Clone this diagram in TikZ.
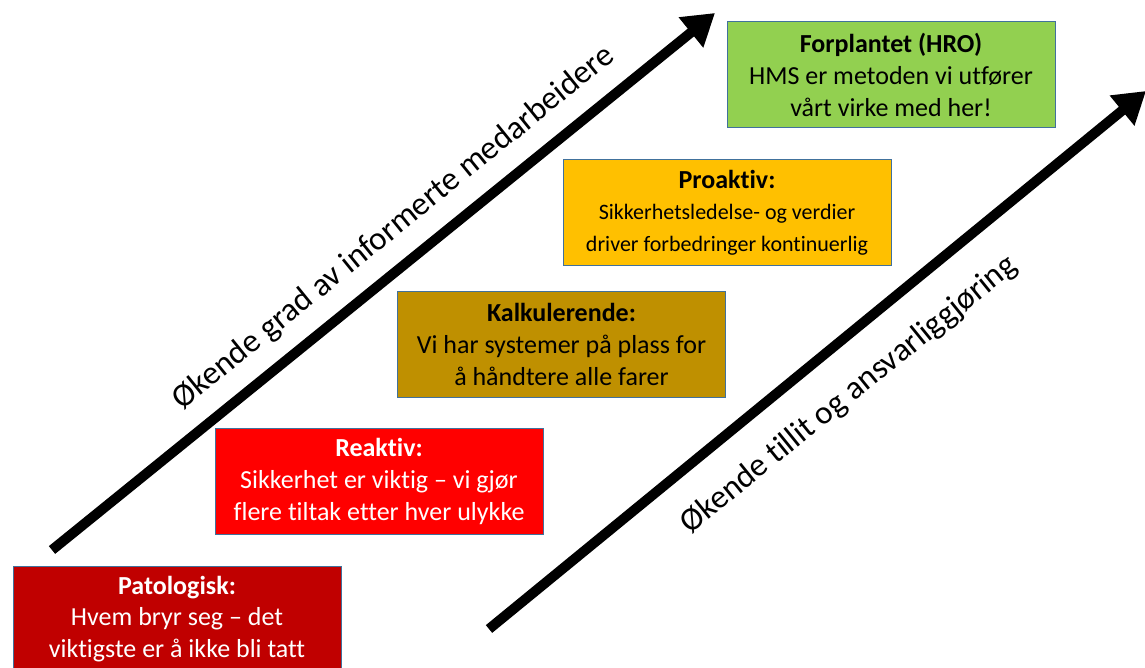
\documentclass[tikz,border=0pt]{standalone}
\usepackage{fontspec}
\setmainfont{Carlito}[Ligatures=CommonOff]
\usetikzlibrary{arrows.meta}
\definecolor{edgeblue}{HTML}{41719C}
\definecolor{patred}{HTML}{C00000}
\definecolor{reared}{HTML}{FF0000}
\definecolor{kalgold}{HTML}{BF9000}
\definecolor{proamber}{HTML}{FFC000}
\definecolor{hrogreen}{HTML}{92D050}
\newcommand{\smallline}{\fontsize{22}{28}\selectfont}
\begin{document}
\begin{tikzpicture}[x=1pt,y=-1pt,
  stage/.style={draw=edgeblue, line width=1pt, inner sep=0pt,
    minimum width=328pt, minimum height=106pt, align=center,
    font=\fontsize{26}{31.7}\selectfont},
  bigarrow/.style={line width=10pt, -{Triangle[length=31pt,width=37pt]}},
  axislabel/.style={font=\fontsize{33}{40}\selectfont, rotate=39, inner sep=0pt}]
\useasboundingbox (0,0) rectangle (1145,668);
\clip (0,0) rectangle (1145,668);

% culture maturity steps
\node[stage, fill=patred, text=white] (pat) at (177,619)
  {\textbf{Patologisk:}\\Hvem bryr seg – det\\viktigste er å ikke bli tatt};
\node[stage, fill=reared, text=white] (rea) at (379,481.5)
  {\textbf{Reaktiv:}\\Sikkerhet er viktig – vi gjør\\flere tiltak etter hver ulykke};
\node[stage, fill=kalgold, text=black] (kal) at (561.5,344.5)
  {\textbf{Kalkulerende:}\\Vi har systemer på plass for\\å håndtere alle farer};
\node[stage, fill=proamber, text=black] (pro) at (727,212.5)
  {\textbf{Proaktiv:}\\{\smallline Sikkerhetsledelse- og verdier}\\{\smallline driver forbedringer kontinuerlig}};
\node[stage, fill=hrogreen, text=black] (hro) at (891,75)
  {\textbf{Forplantet (HRO)}\\HMS er metoden vi utfører\\vårt virke med her!};

% trend arrows
\coordinate (a1s) at (52,550);
\coordinate (a1e) at (715,13);
\coordinate (a2s) at (489,629);
\coordinate (a2e) at (1146,91);
\draw[bigarrow] (a1s) -- (a1e);
\draw[bigarrow] (a2s) -- (a2e);

% arrow captions
\node[axislabel] (lab1) at (394,228) {Økende grad av informerte medarbeidere};
\node[axislabel] (lab2) at (849,395) {Økende tillit og ansvarliggjøring};
\end{tikzpicture}
\end{document}
